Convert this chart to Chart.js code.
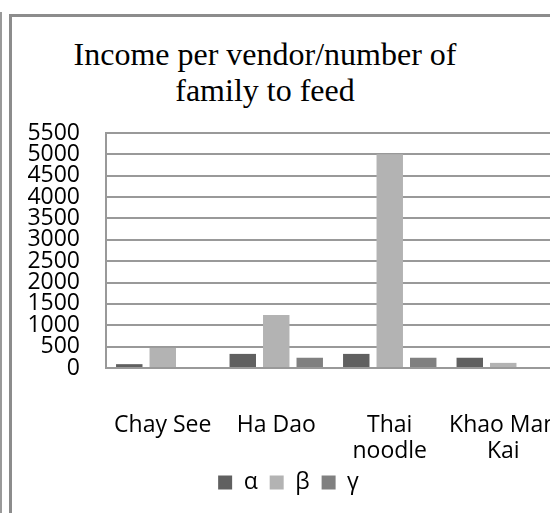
<!DOCTYPE html>
<html>
<head>
<meta charset="utf-8">
<script src="https://cdn.jsdelivr.net/npm/chart.js@4/dist/chart.umd.min.js"></script>
<style>
  html, body { margin: 0; padding: 0; background: #fff; overflow: hidden; width: 550px; height: 513px; }
  #outerLine { position: absolute; left: 0; top: 12px; width: 2px; height: 520px; background: #9a9a9a; }
  #frame { position: absolute; left: 9px; top: 14px; width: 600px; height: 560px;
           border-left: 3px solid #8c8c8c; border-top: 3px solid #8c8c8c; }
  #title { position: absolute; left: 65px; top: 36px; width: 400px; text-align: center;
           font-family: "Liberation Serif", "Times New Roman", serif; font-size: 32px; line-height: 36px; color: #000; }
  #chart { position: absolute; left: 0; top: 0; }
</style>
</head>
<body>
<div id="outerLine"></div>
<div id="frame"></div>
<div id="title">Income per vendor/number of<br>family to feed</div>
<canvas id="chart" width="600" height="513"></canvas>
<script>
// Vendors and the three measures per vendor
const categories = [["Chay See"], ["Ha Dao"], ["Thai", "noodle"], ["Khao Man", "Kai"]];
const alphaValues = [90, 330, 330, 240];
const betaValues = [470, 1240, 5000, 120];
const gammaValues = [0, 240, 240, 0];
const yTicks = [0, 500, 1000, 1500, 2000, 2500, 3000, 3500, 4000, 4500, 5000, 5500];

const labelFont = { family: "'Open Sans', sans-serif", size: 23, lineHeight: 1.13 };

new Chart(document.getElementById('chart'), {
  type: 'bar',
  data: {
    labels: categories,
    datasets: [
      { label: 'α', data: alphaValues, backgroundColor: '#606060' },
      { label: 'β', data: betaValues, backgroundColor: '#b3b3b3' },
      { label: 'γ', data: gammaValues, backgroundColor: '#808080' }
    ]
  },
  options: {
    responsive: false,
    animation: false,
    devicePixelRatio: 1,
    categoryPercentage: 0.885,
    barPercentage: 0.79,
    layout: { padding: { left: 17, right: 40, top: 133, bottom: 9 } },
    plugins: {
      title: { display: false },
      tooltip: { enabled: false },
      legend: {
        position: 'bottom',
        labels: {
          font: labelFont,
          color: '#000',
          boxWidth: 14,
          boxHeight: 14,
          padding: 12
        }
      }
    },
    scales: {
      x: {
        afterFit: (scale) => {
          scale.height = 91;
          scale.paddingLeft = 0;
          scale.paddingRight = 0;
        },
        grid: { display: false, drawTicks: false },
        border: { display: true, color: '#999', width: 2 },
        ticks: {
          font: labelFont,
          color: '#000',
          maxRotation: 0,
          autoSkip: false,
          padding: 44
        }
      },
      y: {
        min: 0,
        max: 5500,
        afterFit: (scale) => { scale.width = 89; },
        afterBuildTicks: (scale) => { scale.ticks = yTicks.map(v => ({ value: v })); },
        grid: { color: '#999', lineWidth: 2, drawTicks: false },
        border: { display: true, color: '#999', width: 2 },
        ticks: {
          font: labelFont,
          color: '#000',
          autoSkip: false,
          padding: 26,
          callback: (value) => String(value)
        }
      }
    }
  }
});
</script>
</body>
</html>
